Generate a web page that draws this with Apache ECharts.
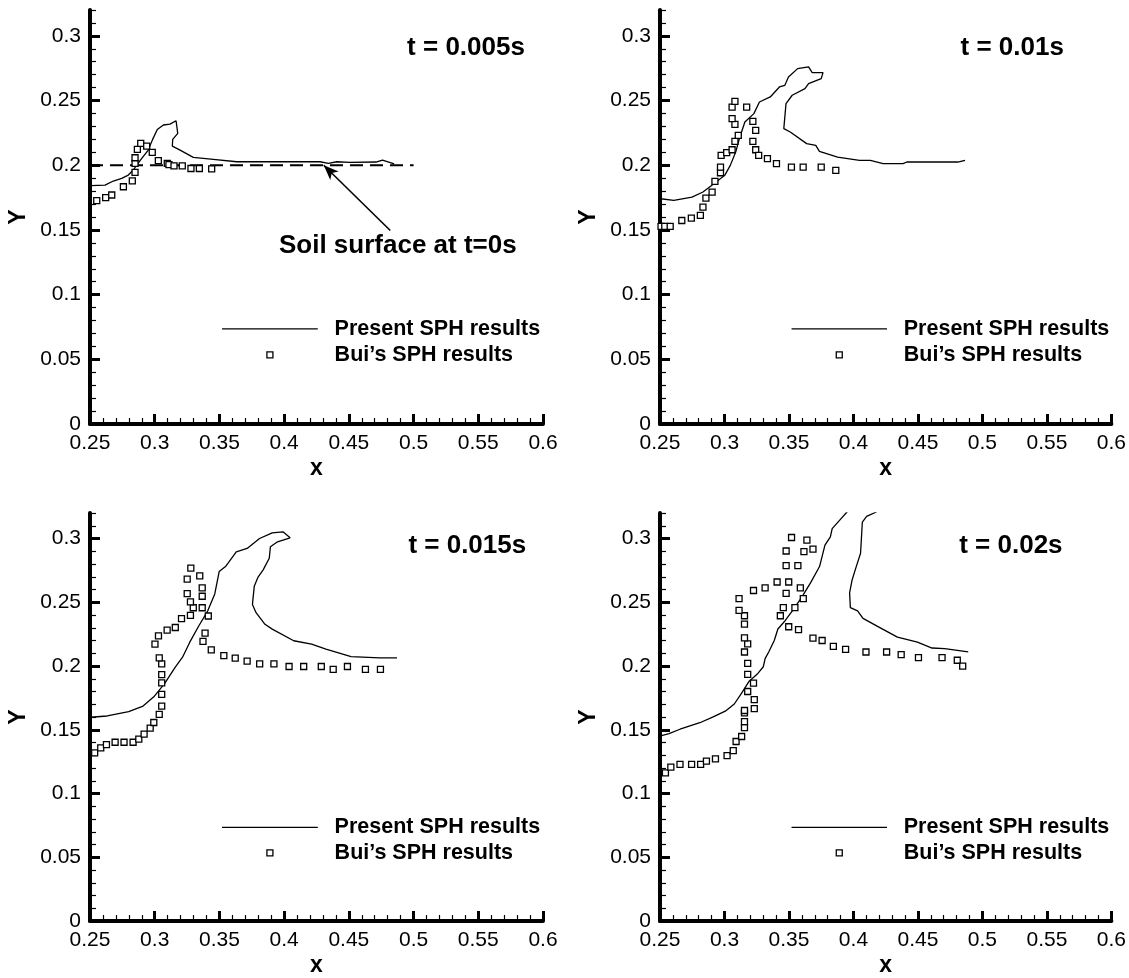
<!DOCTYPE html>
<html><head><meta charset="utf-8">
<script src="https://cdn.jsdelivr.net/npm/echarts@6/dist/echarts.min.js"></script>
<style>html,body{margin:0;padding:0;background:#fff}#c{width:1129px;height:978px}</style>
</head><body><div id="c"></div>
<script>
// ---------------- data ----------------
const xTickValues = [0.25, 0.3, 0.35, 0.4, 0.45, 0.5, 0.55, 0.6];
const yTickValues = [0, 0.05, 0.1, 0.15, 0.2, 0.25, 0.3];
const timeLabels = ['t = 0.005s', 't = 0.01s', 't = 0.015s', 't = 0.02s'];
const seriesNames = ['Present SPH results', 'Bui\u2019s SPH results'];
const soilLabel = 'Soil surface at t=0s';

const present005 = [[0.2505,0.1842],[0.2616,0.1847],[0.268,0.1878],[0.2745,0.1898],[0.2796,0.1924],[0.2835,0.1963],[0.2861,0.2002],[0.29,0.2053],[0.295,0.2117],[0.2984,0.22],[0.302,0.2277],[0.3067,0.2311],[0.3118,0.2318],[0.3165,0.2344],[0.3178,0.2246],[0.3139,0.22],[0.3136,0.2148],[0.3196,0.2117],[0.3298,0.2061],[0.3453,0.2046],[0.3634,0.2027],[0.4277,0.2027],[0.4342,0.2015],[0.4406,0.2027],[0.451,0.2022],[0.471,0.2025],[0.476,0.204],[0.485,0.201]];
const bui005 = [[0.2552,0.1726],[0.2621,0.1749],[0.2668,0.177],[0.2758,0.1834],[0.2827,0.188],[0.2848,0.1945],[0.2848,0.2015],[0.2848,0.2058],[0.2866,0.2123],[0.2892,0.2169],[0.2938,0.2148],[0.2981,0.21],[0.3028,0.2035],[0.3097,0.2015],[0.311,0.2005],[0.3149,0.1995],[0.3213,0.1995],[0.328,0.1975],[0.3345,0.1975],[0.344,0.1972]];
const soilSurface0 = [[0.25,0.2],[0.5,0.2]];

const present010 = [[0.2505,0.1741],[0.2607,0.1728],[0.2748,0.1754],[0.2833,0.1793],[0.2918,0.1857],[0.3002,0.1922],[0.3045,0.1999],[0.3087,0.2102],[0.3115,0.2205],[0.3158,0.2334],[0.3228,0.2399],[0.3271,0.2489],[0.3355,0.2528],[0.3426,0.2605],[0.3468,0.2618],[0.3496,0.2682],[0.3567,0.2747],[0.3652,0.276],[0.368,0.2716],[0.3764,0.2716],[0.375,0.267],[0.3652,0.2631],[0.3624,0.2592],[0.3525,0.2541],[0.3477,0.2476],[0.346,0.2283],[0.351,0.2257],[0.3637,0.2167],[0.3708,0.2154],[0.3736,0.2107],[0.3877,0.2063],[0.4047,0.2038],[0.4131,0.2038],[0.423,0.2012],[0.4385,0.2012],[0.4414,0.2025],[0.4809,0.2025],[0.4865,0.2038]];
const bui010 = [[0.2508,0.1527],[0.2537,0.1527],[0.2579,0.1527],[0.2669,0.1573],[0.2743,0.1591],[0.2813,0.1612],[0.2833,0.1677],[0.2856,0.1746],[0.2904,0.1793],[0.2926,0.1875],[0.2969,0.1942],[0.2969,0.1986],[0.2974,0.2076],[0.3017,0.2097],[0.3059,0.212],[0.3081,0.2185],[0.3107,0.2231],[0.3081,0.2316],[0.3059,0.236],[0.3059,0.245],[0.3081,0.2494],[0.3172,0.245],[0.322,0.2339],[0.3242,0.227],[0.322,0.2185],[0.3242,0.212],[0.3265,0.2076],[0.3333,0.2051],[0.3403,0.2012],[0.3519,0.1986],[0.361,0.1986],[0.375,0.1986],[0.3863,0.196]];

const present015 = [[0.2505,0.1598],[0.2633,0.1608],[0.2799,0.1642],[0.291,0.1686],[0.2993,0.1758],[0.3076,0.1862],[0.3159,0.1991],[0.3215,0.2069],[0.327,0.2185],[0.334,0.2314],[0.3409,0.2431],[0.3464,0.2565],[0.3498,0.2741],[0.3547,0.278],[0.363,0.2896],[0.3714,0.2922],[0.381,0.3],[0.3908,0.3044],[0.3991,0.3052],[0.4046,0.3005],[0.3949,0.2974],[0.3894,0.2935],[0.3885,0.2845],[0.3838,0.2754],[0.3797,0.2695],[0.3769,0.2625],[0.3755,0.2483],[0.3783,0.2418],[0.3852,0.2327],[0.3908,0.2289],[0.4074,0.2198],[0.4212,0.2172],[0.4323,0.2133],[0.4517,0.2074],[0.4739,0.2064],[0.4872,0.2064]];
const bui015 = [[0.2536,0.1319],[0.2583,0.1358],[0.2627,0.1383],[0.2694,0.1402],[0.2763,0.1402],[0.2833,0.1402],[0.2877,0.1427],[0.2918,0.1466],[0.2965,0.1513],[0.2993,0.1557],[0.3035,0.1621],[0.3054,0.1686],[0.3054,0.1777],[0.3054,0.1867],[0.3054,0.1932],[0.3054,0.2017],[0.3035,0.2064],[0.3002,0.2172],[0.3029,0.2237],[0.3096,0.2281],[0.3159,0.2302],[0.3207,0.2371],[0.3276,0.2397],[0.3298,0.2457],[0.3276,0.2503],[0.3251,0.2568],[0.3251,0.2682],[0.3279,0.2767],[0.3348,0.2707],[0.3367,0.2612],[0.3367,0.2547],[0.3367,0.2457],[0.3414,0.2392],[0.3389,0.2258],[0.3373,0.2193],[0.3437,0.2126],[0.3534,0.2082],[0.3622,0.2061],[0.3714,0.2038],[0.3811,0.2017],[0.3921,0.2017],[0.4038,0.1996],[0.4151,0.1996],[0.4287,0.1996],[0.4379,0.1973],[0.4489,0.1996],[0.4628,0.1973],[0.4744,0.1973]];

const present020 = [[0.2505,0.1452],[0.257,0.147],[0.2655,0.1504],[0.2809,0.1555],[0.2908,0.1599],[0.3006,0.1646],[0.3076,0.1702],[0.3133,0.1787],[0.3189,0.1878],[0.3259,0.1942],[0.3301,0.1994],[0.3315,0.2058],[0.3343,0.211],[0.3386,0.22],[0.3414,0.229],[0.347,0.2355],[0.3526,0.2432],[0.3596,0.2535],[0.3667,0.2652],[0.3737,0.278],[0.3779,0.2948],[0.3821,0.3013],[0.3835,0.3077],[0.3892,0.3142],[0.3948,0.3206],[0.401,0.33],[0.428,0.33],[0.4173,0.3206],[0.4102,0.3173],[0.4069,0.3129],[0.4055,0.2884],[0.4018,0.2768],[0.399,0.2677],[0.397,0.2574],[0.3976,0.2458],[0.4032,0.2432],[0.4074,0.2373],[0.4201,0.2303],[0.4341,0.2226],[0.4496,0.2187],[0.4609,0.2141],[0.4707,0.2136],[0.489,0.211]];
const bui020 = [[0.2542,0.1161],[0.2584,0.1207],[0.2655,0.1228],[0.2745,0.1228],[0.2815,0.1228],[0.286,0.1254],[0.293,0.1272],[0.302,0.1297],[0.3068,0.1336],[0.309,0.1408],[0.3133,0.1447],[0.3155,0.1517],[0.3155,0.1563],[0.3155,0.1633],[0.3155,0.1651],[0.3231,0.1666],[0.3231,0.1736],[0.318,0.18],[0.3225,0.1865],[0.318,0.1934],[0.318,0.202],[0.3155,0.211],[0.318,0.2174],[0.3155,0.2221],[0.3155,0.2329],[0.3155,0.2394],[0.3113,0.2437],[0.3113,0.2528],[0.3225,0.2592],[0.3315,0.2613],[0.3408,0.2659],[0.3498,0.2659],[0.3478,0.2569],[0.3456,0.2458],[0.3433,0.2394],[0.3546,0.2458],[0.3611,0.2528],[0.3588,0.2613],[0.3569,0.2788],[0.3478,0.2788],[0.3478,0.2902],[0.352,0.3008],[0.3639,0.2987],[0.3686,0.2917],[0.3616,0.2897],[0.3498,0.2308],[0.3574,0.2285],[0.3686,0.2218],[0.3757,0.22],[0.3844,0.2154],[0.3939,0.2131],[0.4097,0.211],[0.4257,0.211],[0.437,0.2089],[0.4504,0.2066],[0.4687,0.2066],[0.4805,0.2045],[0.4847,0.1999]];

const presentSets = [present005, present010, present015, present020];
const buiSets = [bui005, bui010, bui015, bui020];

// ---------------- layout / style (not data) ----------------
const FONT = '"Liberation Sans", Arial, Helvetica, sans-serif';
const X_MIN = 0.25, X_MAX = 0.6, Y_MIN = 0, Y_MAX = 0.32;
const grids = [
  {left: 90, top: 10, width: 453, height: 414},
  {left: 660, top: 10, width: 453, height: 414},
  {left: 90, top: 513, width: 453, height: 414},
  {left: 660, top: 513, width: 453, height: 414}
];
const titlePos = [[0.495, 0.291], [0.483, 0.291], [0.496, 0.294], [0.482, 0.294]];
const legendLayout = {lineX: [0.352, 0.426], lineY: 0.0735, markerX: 0.389, markerY: 0.0535, textX: 0.439};
const soilTextPos = [0.396, 0.138];
const arrowFrom = [0.482, 0.1496], arrowTo = [0.4306, 0.2];

function pick(list, v) {
  const m = list.find(t => Math.abs(t - v) < 1e-9);
  return m === undefined ? '' : String(m);
}
const minorX = [], minorY = [];
for (let k = 25; k <= 60; k++) minorX.push(k / 100);
for (let k = 0; k <= 32; k++) minorY.push(k / 100);

const xAxes = [], yAxes = [], series = [];
grids.forEach((g, i) => {
  xAxes.push({
    gridIndex: i, type: 'value', min: X_MIN, max: X_MAX, interval: 0.05,
    position: 'bottom',
    name: 'x', nameLocation: 'middle', nameGap: 33,
    nameTextStyle: {fontFamily: FONT, fontWeight: 'bold', fontSize: 23, color: '#000'},
    axisLine: {show: false},
    axisTick: {show: true, inside: true, length: 10, lineStyle: {color: '#000', width: 3}, customValues: xTickValues},
    axisLabel: {show: true, margin: 9, color: '#000', fontFamily: FONT, fontSize: 21,
      customValues: xTickValues, formatter: v => pick(xTickValues, v)},
    splitLine: {show: false}
  });
  xAxes.push({
    gridIndex: i, type: 'value', min: X_MIN, max: X_MAX, interval: 0.01,
    position: 'bottom',
    axisLine: {show: true, lineStyle: {color: '#000', width: 4}},
    axisTick: {show: true, inside: true, length: 6, lineStyle: {color: '#000', width: 1.2}, customValues: minorX},
    axisLabel: {show: false},
    splitLine: {show: false}
  });
  yAxes.push({
    gridIndex: i, type: 'value', min: Y_MIN, max: Y_MAX, interval: 0.05,
    position: 'left',
    name: 'Y', nameLocation: 'middle', nameGap: 60, nameRotate: 90,
    nameTextStyle: {fontFamily: FONT, fontWeight: 'bold', fontSize: 23, color: '#000'},
    axisLine: {show: false},
    axisTick: {show: true, inside: true, length: 10, lineStyle: {color: '#000', width: 3}, customValues: yTickValues},
    axisLabel: {show: true, margin: 9, color: '#000', fontFamily: FONT, fontSize: 21,
      customValues: yTickValues, formatter: v => pick(yTickValues, v)},
    splitLine: {show: false}
  });
  yAxes.push({
    gridIndex: i, type: 'value', min: Y_MIN, max: Y_MAX, interval: 0.01,
    position: 'left',
    axisLine: {show: true, lineStyle: {color: '#000', width: 4}},
    axisTick: {show: true, inside: true, length: 6, lineStyle: {color: '#000', width: 1.2}, customValues: minorY},
    axisLabel: {show: false},
    splitLine: {show: false}
  });
  series.push({
    name: seriesNames[0], type: 'line', xAxisIndex: 2 * i, yAxisIndex: 2 * i,
    data: presentSets[i], symbol: 'none', showSymbol: false, smooth: false,
    lineStyle: {color: '#000', width: 1.3}, clip: true, z: 3
  });
  series.push({
    name: seriesNames[1], type: 'scatter', xAxisIndex: 2 * i, yAxisIndex: 2 * i,
    data: buiSets[i], symbol: 'rect', symbolSize: 6,
    itemStyle: {color: '#fff', borderColor: '#000', borderWidth: 1.3, opacity: 1}, z: 4
  });
});
series.push({
  name: 'soil', type: 'line', xAxisIndex: 0, yAxisIndex: 0,
  data: soilSurface0, symbol: 'none', showSymbol: false,
  lineStyle: {color: '#000', width: 2, type: [13, 7]}, z: 2,
  markLine: {
    silent: true, symbol: ['none', 'arrow'], symbolSize: [9, 15],
    lineStyle: {type: 'solid', color: '#000', width: 1.6},
    label: {show: false},
    data: [[{coord: arrowFrom}, {coord: arrowTo}]]
  }
});

const chart = echarts.init(document.getElementById('c'), null, {renderer: 'canvas'});
chart.setOption({
  animation: false,
  backgroundColor: '#fff',
  grid: grids.map(g => Object.assign({containLabel: false}, g)),
  xAxis: xAxes, yAxis: yAxes, series: series
});

function px(i, p) { return chart.convertToPixel({seriesIndex: 2 * i}, p); }
const graphics = [];
grids.forEach((g, i) => {
  const t = px(i, titlePos[i]);
  graphics.push({type: 'text', x: t[0], y: t[1], z: 10,
    style: {text: timeLabels[i], font: 'bold 26px ' + FONT, fill: '#000', align: 'left', verticalAlign: 'middle'}});
  const a = px(i, [legendLayout.lineX[0], legendLayout.lineY]);
  const b = px(i, [legendLayout.lineX[1], legendLayout.lineY]);
  graphics.push({type: 'line', z: 10, shape: {x1: a[0], y1: a[1], x2: b[0], y2: b[1]}, style: {stroke: '#000', lineWidth: 1.3}});
  const m = px(i, [legendLayout.markerX, legendLayout.markerY]);
  graphics.push({type: 'rect', z: 10, shape: {x: m[0] - 3, y: m[1] - 3, width: 6, height: 6}, style: {fill: '#fff', stroke: '#000', lineWidth: 1.3}});
  const t1 = px(i, [legendLayout.textX, legendLayout.lineY]);
  const t2 = px(i, [legendLayout.textX, legendLayout.markerY]);
  graphics.push({type: 'text', x: t1[0], y: t1[1], z: 10,
    style: {text: seriesNames[0], font: 'bold 21.5px ' + FONT, fill: '#000', align: 'left', verticalAlign: 'middle'}});
  graphics.push({type: 'text', x: t2[0], y: t2[1], z: 10,
    style: {text: seriesNames[1], font: 'bold 21.5px ' + FONT, fill: '#000', align: 'left', verticalAlign: 'middle'}});
});
const s = px(0, soilTextPos);
graphics.push({type: 'text', x: s[0], y: s[1], z: 10,
  style: {text: soilLabel, font: 'bold 26px ' + FONT, fill: '#000', align: 'left', verticalAlign: 'middle'}});
chart.setOption({graphic: graphics});
</script>
</body></html>
